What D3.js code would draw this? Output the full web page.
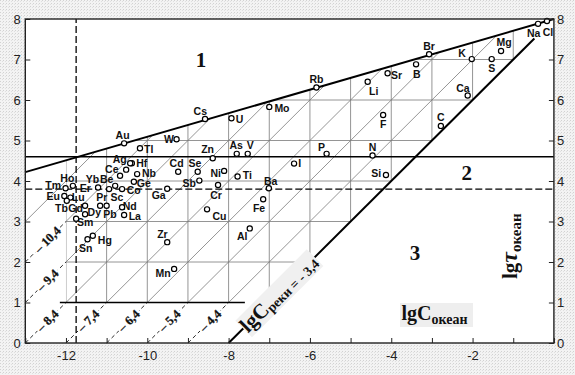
<!DOCTYPE html>
<html><head><meta charset="utf-8">
<script src="https://cdn.jsdelivr.net/npm/d3@7"></script>
<style>body{margin:0;background:#eee}svg{display:block}</style>
</head><body>
<svg id="c" width="575" height="375"></svg>
<script>
// ---------- data ----------
const elements = ["Na","Cl","Mg","K","S","Br","B","Sr","Li","Ca","C","F","Rb","Mo","U","Cs","Au","Tl","W","Zn","Hf","Ag","Ce","Nb","Ge","Cd","Se","Ni","Sb","Cr","Ti","As","V","I","P","N","Si","Ba","Fe","Cu","Al","Ga","Zr","Mn","Ho","Tm","Eu","Lu","Tb","Gd","Yb","Be","Er","Sc","Co","Pr","Pb","Dy","Nd","La","Sm","Hg","Sn"];
const lgC = [-0.39,-0.17,-1.30,-2.02,-1.53,-3.07,-3.39,-4.09,-4.58,-2.12,-2.78,-4.20,-5.84,-7.00,-7.93,-8.58,-10.57,-10.18,-9.28,-8.39,-10.38,-10.42,-10.52,-10.25,-10.33,-9.24,-8.76,-8.11,-8.72,-8.26,-7.78,-7.80,-7.53,-6.39,-5.59,-4.46,-4.13,-7.01,-7.15,-8.53,-7.48,-9.51,-9.51,-9.34,-11.83,-12.01,-12.04,-11.89,-11.98,-11.53,-10.94,-10.67,-11.21,-10.79,-10.62,-11.16,-11.00,-11.53,-10.62,-10.57,-11.75,-11.34,-11.47];
const lgTau = [7.88,7.95,7.21,7.01,7.01,7.13,6.88,6.66,6.45,6.11,5.36,5.63,6.31,5.83,5.55,5.53,4.93,4.81,5.03,4.56,4.44,4.44,4.28,4.17,3.98,4.23,4.23,4.25,4.01,3.90,4.11,4.67,4.67,4.43,4.67,4.63,4.15,3.82,3.55,3.30,2.83,3.81,2.49,1.83,3.88,3.82,3.63,3.59,3.51,3.39,3.80,4.13,3.84,3.88,3.80,3.39,3.39,3.18,3.35,3.16,3.07,2.65,2.56];

const xTicks = [-13,-12,-11,-10,-9,-8,-7,-6,-5,-4,-3,-2,-1,0];
const xTickLabels = [-12,-10,-8,-6,-4,-2];
const yTicks = [0,1,2,3,4,5,6,7,8];

const tauRef = 4.6;          // solid horizontal line
const tauDash = 3.8;         // dashed horizontal line
const cDash = -11.75;        // dashed vertical line
const upperX = [-13, 0];     // upper boundary line
const upperY = [4.22, 8];
const riverMain = -3.4;      // lgC реки = -3,4 (thick line)
const riverLevels = [-4.4,-5.4,-6.4,-7.4,-8.4,-9.4,-10.4];
const gridX = [-12,-11,-10,-9,-8,-7,-6,-5,-4,-3,-2,-1];
const gridY = [2,3,4,5,6,7];
const gridK = [9,10,11,12,13,14,15,16];
const zones = ["1","2","3"];

// ---------- layout (label placement, px) ----------
const labelOffset = {Na:[-4.3,12.7],Cl:[1,14.5],Mg:[3,-4.5],K:[-9.7,-2.3],S:[0,12.7],Br:[0,-4.3],B:[0.7,14],Sr:[9,5.7],Li:[6,13.3],Ca:[-4.7,-4],C:[0,-5.3],F:[0,13.3],Rb:[0,-4],Mo:[12.7,5],U:[8,4.4],Cs:[-4.7,-4],Au:[-1.5,-4.3],Tl:[8.7,4.4],W:[-7.7,3.4],Zn:[-5.2,-5],Hf:[10,3.4],Ag:[-10.5,0],Ce:[-14.3,3.5],Nb:[11.9,3.3],Ge:[10,5],Cd:[-1.6,-4.4],Se:[-2.7,-4.4],Ni:[-8.5,6],Sb:[-10.1,6.8],Cr:[-2,14.3],Ti:[9.8,2.6],As:[-0.5,-4.4],V:[2.6,-4.4],I:[5.7,3.6],P:[-5,-3],N:[0,-4],Si:[-9.8,1.7],Ba:[1.8,-3.3],Fe:[-4.1,12.4],Cu:[12.4,10.7],Al:[-7.5,11.7],Ga:[-8.5,10.6],Zr:[-4.8,-4],Mn:[-11,7.7],Ho:[-5.5,-4.3],Tm:[-12.4,0.7],Eu:[-11.2,4],Lu:[7.8,3.5],Tb:[-5.3,10.7],Gd:[-9.5,6],Yb:[-16.5,-5.7],Be:[-13.3,7.6],Er:[-12.8,4.6],Sc:[1.7,15.3],Co:[11.7,5],Pr:[1.7,-4.7],Pb:[3.3,12.6],Dy:[9.2,2.2],Nd:[7.7,2.7],La:[10.7,5],Sm:[9,7],Hg:[12,8],Sn:[-1.7,12.8]};
const zonePos = {"1":[201,66.7],"2":[466.7,180],"3":[415,260]};

const SANS = "'Liberation Sans', Arial, sans-serif";
const SERIF = "'Liberation Serif', 'Times New Roman', serif";

// ---------- scales ----------
const x = d3.scaleLinear().domain([-13, 0]).range([25.3, 553.9]);
const y = d3.scaleLinear().domain([0, 8]).range([343, 19]);
const upper = v => upperY[0] + (upperY[1]-upperY[0])*(v-upperX[0])/(upperX[1]-upperX[0]);
const line = d3.line().x(d => x(d[0])).y(d => y(d[1]));
const kMain = tauRef - riverMain;

const svg = d3.select("#c");
const defs = svg.append("defs");
const pat = defs.append("pattern").attr("id","dots").attr("width",3).attr("height",3).attr("patternUnits","userSpaceOnUse");
pat.append("rect").attr("width",3).attr("height",3).attr("fill","#f3f3f3");
pat.append("rect").attr("x",0).attr("y",0).attr("width",1).attr("height",1).attr("fill","#d2d2d2");
pat.append("rect").attr("x",2).attr("y",1).attr("width",1).attr("height",1).attr("fill","#e0e0e0");

svg.append("rect").attr("width",575).attr("height",375).attr("fill","url(#dots)");
svg.append("rect").attr("x",x(-13)).attr("y",y(8)).attr("width",x(0)-x(-13)).attr("height",y(0)-y(8)).attr("fill","#fff");

// grid clip: region between y=1, thick line, upper boundary and x=-12
const clipPoly = [[-12,1],[1 - kMain,1],[0,kMain],[-12, upper(-12)]];
defs.append("clipPath").attr("id","gclip").append("polygon")
  .attr("points", clipPoly.map(p => x(p[0])+","+y(p[1])).join(" "));

const grid = svg.append("g").attr("clip-path","url(#gclip)").attr("fill","none").attr("stroke","#7a7a7a").attr("stroke-width",0.8);
gridX.forEach(v => grid.append("path").attr("d", line([[v,0],[v,8]])));
gridY.forEach(v => grid.append("path").attr("d", line([[-13,v],[0,v]])));
gridK.forEach(k => grid.append("path").attr("d", line([[-13,-13+k],[0,k]])));
svg.append("path").attr("d", line([[-13,3],[-12,4]])).attr("stroke","#7a7a7a").attr("stroke-width",0.8).attr("fill","none");

// dashed diagonals (lgC реки levels)
riverLevels.forEach(c => {
  const k = tauRef - c;
  const s = k <= 13 ? [-k,0] : [-13,k-13];
  const e = k <= 13 ? [1-k,1] : [-12,k-12];
  svg.append("path").attr("d", line([s,e])).attr("stroke","#111").attr("stroke-width",0.9)
    .attr("stroke-dasharray","4,3").attr("fill","none");
});
riverLevels.forEach(c => {
  const k = tauRef - c;
  const lx = Math.max(-12.45, 0.55 - k), ly = lx + k;
  const g = svg.append("g").attr("transform",`translate(${x(lx)},${y(ly)}) rotate(-45)`);
  const t = g.append("text").attr("text-anchor","middle").attr("dy","0.33em")
    .attr("font-family",SERIF).attr("font-weight","bold").attr("font-size",12.5).attr("fill","#111")
    .attr("stroke","#111").attr("stroke-width",0.25)
    .text("– " + String(Math.abs(c)).replace(".",","));
  const b = t.node().getBBox();
  g.insert("rect","text").attr("x",b.x-1).attr("y",b.y+1).attr("width",b.width+2).attr("height",b.height-2).attr("fill","#fff");
});

// horizontal / vertical reference lines
svg.append("path").attr("d", line([[-13,tauRef],[0,tauRef]])).attr("stroke","#000").attr("stroke-width",1.5);
svg.append("path").attr("d", line([[-13,tauDash],[0,tauDash]])).attr("stroke","#000").attr("stroke-width",1.4).attr("stroke-dasharray","7,3");
svg.append("path").attr("d", line([[cDash,0],[cDash,8]])).attr("stroke","#000").attr("stroke-width",1.3).attr("stroke-dasharray","7,3");
svg.append("path").attr("d", line([[-12.15,1],[-7.6,1]])).attr("stroke","#000").attr("stroke-width",1.6);

// upper boundary
svg.append("path").attr("d", line([[upperX[0],upperY[0]],[upperX[1],upperY[1]]])).attr("stroke","#000").attr("stroke-width",2).attr("fill","none");
// thick line lgC реки = -3,4
svg.append("path").attr("d", line([[-kMain,0],[-0.48,kMain-0.48]])).attr("stroke","#000").attr("stroke-width",2).attr("fill","none");

// label for thick line
{
  const lx = -7.66, ly = lx + kMain;
  const g = svg.append("g").attr("transform",`translate(${x(lx)},${y(ly)}) rotate(-45)`);
  const t = g.append("text").attr("x",1).attr("y",7).attr("font-family",SERIF).attr("font-weight","bold").attr("fill","#111");
  t.append("tspan").attr("font-size",21).text("lgC");
  t.append("tspan").attr("font-size",13.5).attr("dy",2.5).text("реки");
  t.append("tspan").attr("font-size",13.5).text(" = - " + String(Math.abs(riverMain)).replace(".",","));
  const b = t.node().getBBox();
  g.insert("rect","text").attr("x",b.x).attr("y",b.y+1).attr("width",b.width+1).attr("height",b.height-1).attr("fill","#f0f0f0");
}

// points
const pts = svg.append("g");
elements.forEach((el,i) => {
  const px = x(lgC[i]), py = y(lgTau[i]);
  const o = labelOffset[el] || [8,4];
  pts.append("text").attr("x",px+o[0]).attr("y",py+o[1]).attr("text-anchor","middle")
    .attr("font-family",SANS).attr("font-weight","bold").attr("font-size",10.5).attr("fill","#111").text(el);
});
elements.forEach((el,i) => {
  pts.append("circle").attr("cx",x(lgC[i])).attr("cy",y(lgTau[i])).attr("r",2.6)
    .attr("fill","#fff").attr("stroke","#000").attr("stroke-width",1.2);
});

// zone numbers
zones.forEach(z => svg.append("text").attr("x",zonePos[z][0]).attr("y",zonePos[z][1]).attr("text-anchor","middle")
  .attr("font-family",SERIF).attr("font-weight","bold").attr("font-size",21).attr("fill","#111").text(z));

// x title
{
  const g = svg.append("g");
  g.append("rect").attr("x",400).attr("y",303).attr("width",73).attr("height",24).attr("fill","#eeeeee");
  const t = g.append("text").attr("x",401.5).attr("y",320).attr("font-family",SERIF).attr("font-weight","bold").attr("fill","#111");
  t.append("tspan").attr("font-size",20).text("lgC");
  t.append("tspan").attr("font-size",14).attr("dy",4).text("океан");
}
// y title
{
  const g = svg.append("g").attr("transform","translate(517,279) rotate(-90)");
  const t = g.append("text").attr("x",0).attr("y",0).attr("font-family",SERIF).attr("font-weight","bold").attr("fill","#111");
  t.append("tspan").attr("font-size",21).text("lg");
  t.append("tspan").attr("font-size",24).attr("font-style","italic").text("τ");
  t.append("tspan").attr("font-size",15).attr("dy",4).text("океан");
}

// frame
svg.append("rect").attr("x",x(-13)).attr("y",y(8)).attr("width",x(0)-x(-13)).attr("height",y(0)-y(8))
  .attr("fill","none").attr("stroke","#222").attr("stroke-width",1.4);

// axes
const fmtX = d => xTickLabels.includes(d) ? String(d) : "";
const ax = svg.append("g").attr("transform",`translate(0,${y(0)})`)
  .call(d3.axisBottom(x).tickValues(xTicks).tickFormat(fmtX).tickSizeInner(-5).tickSizeOuter(0).tickPadding(7.5));
const ayl = svg.append("g").attr("transform",`translate(${x(-13)},0)`)
  .call(d3.axisLeft(y).tickValues(yTicks).tickFormat(d3.format("d")).tickSizeInner(-5).tickSizeOuter(0).tickPadding(4.5));
const ayr = svg.append("g").attr("transform",`translate(${x(0)},0)`)
  .call(d3.axisRight(y).tickValues(yTicks).tickFormat(d3.format("d")).tickSizeInner(-5).tickSizeOuter(0).tickPadding(3));
[ax,ayl,ayr].forEach(a => {
  a.select(".domain").remove();
  a.selectAll("line").attr("stroke","#222").attr("stroke-width",1);
  a.selectAll("text").attr("font-family",SANS).attr("font-size",13).attr("fill","#222");
});
</script>
</body></html>
